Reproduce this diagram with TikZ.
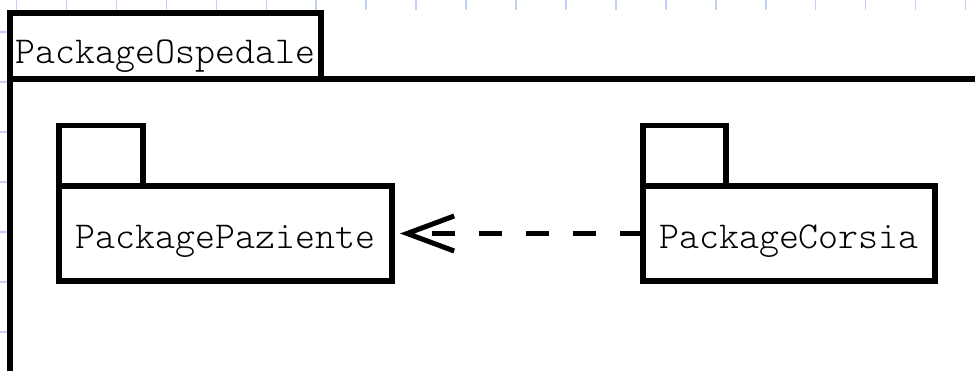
\documentclass[tikz,border=0pt]{standalone}
\usepackage{tikz}
\usetikzlibrary{arrows.meta}
\definecolor{gridblue}{RGB}{196,208,250}

\begin{document}
\begin{tikzpicture}[x=1pt, y=-1pt]
        \tikzstyle{pkg} = [draw, line width=5.5pt, fill=white, outer sep=0pt, inner sep=0pt, font=\fontsize{38}{40}\ttfamily\fontseries{l}\selectfont, text height=30pt, text depth=0pt]
        \tikzstyle{pkgtab} = [pkg, minimum width=84pt, minimum height=60.5pt, anchor=south west]
        \tikzstyle{gridmark} = [gridblue, line width=1.5pt]
        \useasboundingbox (0,0) rectangle (975,371);
        \clip (0,0) rectangle (975,371);
        \fill[white] (0,0) rectangle (975,371);
        \foreach \i in {0,...,19} \draw[gridmark] ({16.5+49.95*\i},0) -- ++(0,10);
        \foreach \j in {0,...,6} \draw[gridmark] (0,{32+50*\j}) -- ++(8,0);
        \node[pkg, minimum width=311pt, minimum height=66pt, text height=35pt] (ospedaleTab) at (165.5,46) {PackageOspedale};
        \node[pkg, minimum width=1100pt, minimum height=400pt, anchor=north west] (ospedale) at (ospedaleTab.south west) {};
        \node[pkg, minimum width=333pt, minimum height=95pt] (paziente) at (225.5,233.5) {PackagePaziente};
        \node[pkgtab] (pazienteTab) at (paziente.north west) {};
        \node[pkg, minimum width=292pt, minimum height=95pt] (corsia) at (789,233.5) {PackageCorsia};
        \node[pkgtab, minimum width=83pt] (corsiaTab) at (corsia.north west) {};
        \draw[line width=5pt, dash pattern=on 23pt off 24pt, -{Straight Barb[length=47pt, width=35pt]}, shorten >=8pt] (corsia.west) -- (paziente.east);
\end{tikzpicture}
\end{document}
